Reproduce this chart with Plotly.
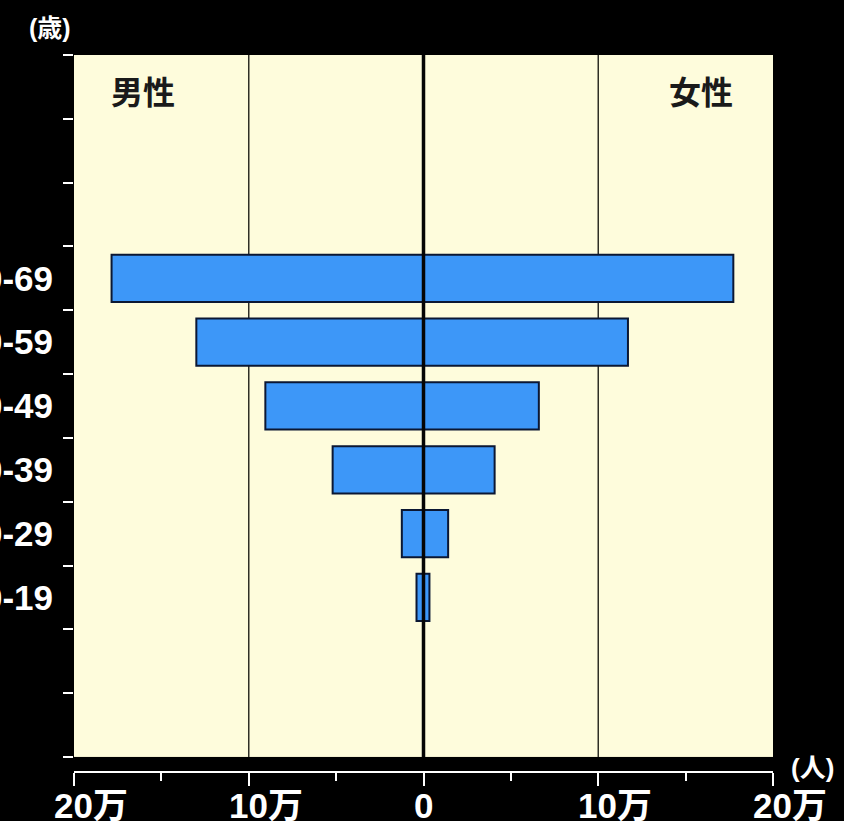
import plotly.graph_objects as go

# 年齢階級（歳）と人数
age_labels = ["10-19", "20-29", "30-39", "40-49", "50-59", "60-69"]
age_mid = [15, 25, 35, 45, 55, 65]
male = [4000, 12400, 52000, 90500, 130000, 178500]
female = [3400, 14100, 40700, 66000, 117000, 177300]

x_tick_vals = [-200000, -100000, 0, 100000, 200000]
x_tick_text = ["20万", "10万", "0", "10万", "20万"]
x_minor_vals = [-150000, -50000, 50000, 150000]
y_tick_vals = list(range(-10, 101, 10))

FONT = "Liberation Sans, Noto Sans CJK JP, sans-serif"
BAR_FILL = "#3D97F8"
BAR_EDGE = "#0B1733"

fig = go.Figure()

fig.add_trace(
    go.Bar(
        x=[-v for v in male],
        y=age_mid,
        orientation="h",
        width=7.4,
        name="男性",
        marker=dict(color=BAR_FILL, line=dict(color=BAR_EDGE, width=2)),
        customdata=male,
        hovertemplate="男性 %{customdata:,}人<extra></extra>",
    )
)
fig.add_trace(
    go.Bar(
        x=female,
        y=age_mid,
        orientation="h",
        width=7.4,
        name="女性",
        marker=dict(color=BAR_FILL, line=dict(color=BAR_EDGE, width=2)),
        hovertemplate="女性 %{x:,}人<extra></extra>",
    )
)
# invisible trace so the label axis is drawn
fig.add_trace(
    go.Scatter(x=[0], y=[age_mid[0]], yaxis="y2", mode="markers",
               marker=dict(opacity=0), showlegend=False, hoverinfo="skip")
)

# grid lines at 10万 and the centre line over the bars
for v in (-100000, 100000):
    fig.add_vline(x=v, line=dict(color="#2f2f26", width=1.5), layer="below")
fig.add_vline(x=0, line=dict(color="#050505", width=3.5), layer="above")

# x tick labels: numeral centred on the tick, 万 hanging to the right
for v, t in zip(x_tick_vals, x_tick_text):
    fig.add_annotation(
        x=v, y=0, xref="x", yref="paper", text=f"<b>{t}</b>",
        showarrow=False, xanchor="center", yanchor="top",
        xshift=17 if t.endswith("万") else 0, yshift=-12,
        font=dict(family=FONT, size=35, color="white"),
    )

label_font = dict(family=FONT, size=32, color="#1a1a1a")
fig.add_annotation(x=0.099, y=0.947, xref="paper", yref="paper", text="<b>男性</b>",
                   showarrow=False, xanchor="center", yanchor="middle", font=label_font)
fig.add_annotation(x=0.897, y=0.947, xref="paper", yref="paper", text="<b>女性</b>",
                   showarrow=False, xanchor="center", yanchor="middle", font=label_font)
fig.add_annotation(x=-0.035, y=1.038, xref="paper", yref="paper", text="<b>(歳)</b>",
                   showarrow=False, xanchor="center", yanchor="middle",
                   font=dict(family=FONT, size=25, color="white"))
fig.add_annotation(x=1.0, y=0.006, xref="paper", yref="paper", text="<b>(人)</b>",
                   showarrow=False, xanchor="left", yanchor="middle", xshift=16,
                   font=dict(family=FONT, size=26, color="white"))

fig.update_layout(
    width=844,
    height=821,
    margin=dict(l=74, r=71, t=55, b=49),
    paper_bgcolor="black",
    plot_bgcolor="#FEFCDC",
    barmode="overlay",
    showlegend=False,
    xaxis=dict(
        range=[-200000, 200000],
        anchor="free",
        position=0,
        automargin=False,
        showgrid=False,
        zeroline=False,
        showline=True,
        linecolor="white",
        linewidth=2,
        tickvals=x_tick_vals,
        showticklabels=False,
        ticks="outside",
        ticklen=13,
        tickwidth=2,
        tickcolor="white",
        minor=dict(tickvals=x_minor_vals, ticks="outside", ticklen=8,
                   tickwidth=2, tickcolor="white"),
    ),
    yaxis=dict(
        domain=[0.021, 1],
        range=[-10, 100],
        automargin=False,
        showgrid=False,
        zeroline=False,
        showline=False,
        tickvals=y_tick_vals,
        showticklabels=False,
        ticks="outside",
        ticklen=10,
        tickwidth=2,
        tickcolor="white",
    ),
    yaxis2=dict(
        overlaying="y",
        range=[-10, 100],
        automargin=False,
        showgrid=False,
        zeroline=False,
        tickvals=age_mid,
        ticktext=[f"<b>{a}</b>" for a in age_labels],
        ticks="outside",
        ticklen=13,
        tickcolor="rgba(0,0,0,0)",
        tickfont=dict(family=FONT, size=35, color="white"),
    ),
)

fig.write_html("out.html", config={"displayModeBar": False},
               post_script="document.body.style.margin='0';")
